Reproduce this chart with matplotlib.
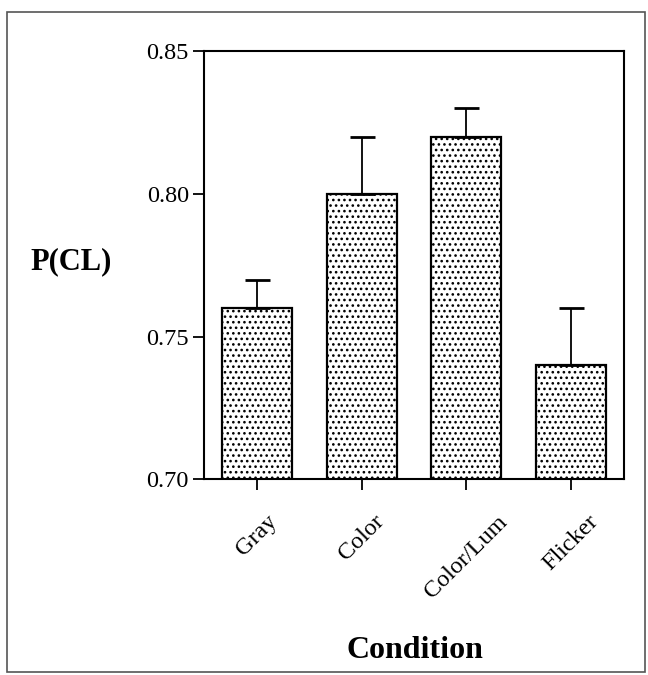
import matplotlib
matplotlib.use("Agg")
import matplotlib.pyplot as plt
from matplotlib.patches import Rectangle

# Werte
conditions = ["Gray", "Color", "Color/Lum", "Flicker"]
p_cl = [0.76, 0.80, 0.82, 0.74]
err_up = [0.01, 0.02, 0.01, 0.02]
y_ticks = [0.70, 0.75, 0.80, 0.85]

plt.rcParams["font.family"] = ["Liberation Serif", "DejaVu Serif"]
plt.rcParams["hatch.linewidth"] = 1.1

fig = plt.figure(figsize=(6.48, 6.75), dpi=100)
ax = fig.add_axes([0.315, 0.290, 0.648, 0.634])

x = list(range(len(conditions)))
ax.bar(x, p_cl, width=0.67, color="white", edgecolor="black",
       linewidth=1.6, hatch="...", zorder=2)
ax.errorbar(x, p_cl, yerr=[[0] * len(x), err_up], fmt="none", ecolor="black",
            elinewidth=1.3, capsize=9, capthick=2, zorder=3)

ax.set_ylim(0.70, 0.85)
ax.set_xlim(-0.507, 3.51)
ax.set_yticks(y_ticks)
ax.set_yticklabels([f"{v:.2f}" for v in y_ticks], fontsize=17.5)
ax.set_xticks(x)
ax.set_xticklabels(conditions, rotation=45, ha="center", fontsize=17.5)
ax.tick_params(axis="both", direction="out", length=8, width=1.3, pad=3)
ax.tick_params(axis="x", pad=15)
for s in ax.spines.values():
    s.set_linewidth(1.5)

fig.text(0.110, 0.613, "P(CL)", fontsize=22, fontweight="bold",
         ha="center", va="center")
fig.text(0.64, 0.037, "Condition", fontsize=23, fontweight="bold",
         ha="center", va="center")

# Rahmen um die ganze Abbildung
fig.patches.append(Rectangle((0.011, 0.004), 0.985, 0.978, transform=fig.transFigure,
                             fill=False, edgecolor="#555555", linewidth=1.2))

fig.savefig("out.png", dpi=100)
